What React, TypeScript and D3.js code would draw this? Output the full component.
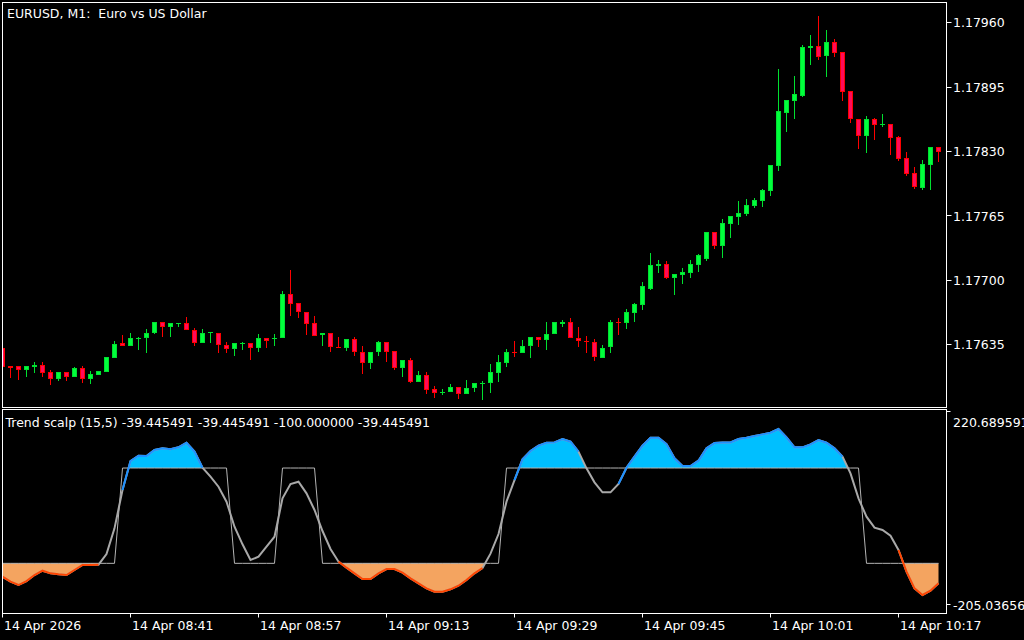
import React from "react";
import * as d3 from "d3";

// ---- Price data (EURUSD M1), bar 0 = 08:25 ----
const opens = [
  1.17631, 1.17613, 1.17613, 1.17609, 1.17612, 1.17614, 1.17607, 1.176, 1.17607, 1.17602,
  1.17611, 1.176, 1.17604, 1.17607, 1.17621, 1.17636, 1.17633, 1.1764, 1.17641, 1.17646,
  1.17658, 1.17652, 1.17656, 1.17657, 1.17649, 1.17636, 1.17646, 1.17646, 1.17634, 1.1763,
  1.17635, 1.17636, 1.17631, 1.17641, 1.1764, 1.17641, 1.17686, 1.17677, 1.17668, 1.17656,
  1.17644, 1.17646, 1.17632, 1.17631, 1.1764, 1.17627, 1.17616, 1.17627, 1.17637, 1.17628,
  1.17611, 1.17619, 1.17597, 1.17604, 1.1759, 1.17586, 1.17587, 1.17592, 1.17585, 1.17591,
  1.17595, 1.17596, 1.17606, 1.17616, 1.17627, 1.17626, 1.17633, 1.17642, 1.17639, 1.17645,
  1.17655, 1.17658, 1.17641, 1.17638, 1.17637, 1.17621, 1.17632, 1.17658, 1.17657, 1.17667,
  1.17675, 1.17691, 1.17714, 1.17716, 1.17702, 1.17705, 1.17707, 1.17715, 1.17721, 1.17748,
  1.17734, 1.17756, 1.17763, 1.17767, 1.17775, 1.1778, 1.1779, 1.17815, 1.17868, 1.17881,
  1.17886, 1.17934, 1.17936, 1.17926, 1.1794, 1.1793, 1.17891, 1.17862, 1.17845, 1.17862,
  1.17856, 1.17857, 1.17844, 1.17823, 1.17808, 1.17793, 1.17816, 1.17834,
];
const highs = [
  1.17632, 1.17613, 1.17613, 1.17613, 1.17617, 1.17617, 1.17609, 1.17607, 1.17607, 1.17612,
  1.17613, 1.17608, 1.17608, 1.17622, 1.17638, 1.17644, 1.17646, 1.17642, 1.1765, 1.17658,
  1.17658, 1.17657, 1.17657, 1.17663, 1.17651, 1.1765, 1.17647, 1.17646, 1.17637, 1.17636,
  1.17637, 1.17636, 1.17645, 1.17641, 1.17645, 1.17689, 1.1771, 1.17677, 1.17668, 1.17664,
  1.17646, 1.17646, 1.17642, 1.1764, 1.17642, 1.17633, 1.17627, 1.17638, 1.17637, 1.17628,
  1.17619, 1.17621, 1.17608, 1.17607, 1.17593, 1.1759, 1.17595, 1.17592, 1.17599, 1.17596,
  1.17598, 1.17615, 1.17624, 1.1763, 1.17638, 1.17639, 1.17642, 1.17642, 1.17658, 1.17658,
  1.1766, 1.17662, 1.17652, 1.17643, 1.1764, 1.17634, 1.1766, 1.17662, 1.17671, 1.17677,
  1.17698, 1.17727, 1.1772, 1.17719, 1.17706, 1.17712, 1.1772, 1.17726, 1.17748, 1.17748,
  1.17761, 1.17764, 1.1778, 1.17782, 1.17783, 1.17792, 1.17816, 1.17913, 1.17882, 1.17906,
  1.17937, 1.17947, 1.17966, 1.17952, 1.17943, 1.1793, 1.17891, 1.17862, 1.17865, 1.17863,
  1.17867, 1.17857, 1.17845, 1.17829, 1.17814, 1.17821, 1.17834, 1.17834,
];
const lows = [
  1.17612, 1.17601, 1.17599, 1.17602, 1.17606, 1.17602, 1.17594, 1.17598, 1.17598, 1.17602,
  1.17596, 1.17595, 1.17604, 1.17607, 1.17621, 1.17633, 1.17633, 1.17629, 1.17626, 1.17645,
  1.17642, 1.17642, 1.17652, 1.17649, 1.17633, 1.17636, 1.17636, 1.17626, 1.17626, 1.17623,
  1.17629, 1.17619, 1.17627, 1.17631, 1.17633, 1.17641, 1.17664, 1.17662, 1.17644, 1.17643,
  1.17633, 1.17627, 1.17631, 1.17628, 1.17623, 1.17605, 1.1761, 1.17623, 1.17617, 1.17609,
  1.17602, 1.17596, 1.17597, 1.17585, 1.17581, 1.17584, 1.17587, 1.1758, 1.17585, 1.17587,
  1.17579, 1.17586, 1.17597, 1.17612, 1.17622, 1.17626, 1.17621, 1.17632, 1.17629, 1.17645,
  1.17652, 1.17641, 1.17632, 1.17626, 1.17618, 1.17621, 1.17626, 1.17644, 1.1765, 1.17658,
  1.1767, 1.1769, 1.17707, 1.17701, 1.17685, 1.17696, 1.17702, 1.17708, 1.17719, 1.17731,
  1.17722, 1.17742, 1.17755, 1.17764, 1.17773, 1.17774, 1.17785, 1.1781, 1.17849, 1.17862,
  1.17885, 1.17917, 1.17922, 1.17905, 1.17925, 1.17881, 1.17858, 1.17832, 1.17828, 1.17841,
  1.17854, 1.17826, 1.1782, 1.17805, 1.17792, 1.17791, 1.17791, 1.17819,
];
const closes = [
  1.17612, 1.17611, 1.17609, 1.17613, 1.17614, 1.17606, 1.176, 1.17607, 1.17602, 1.17611,
  1.176, 1.17605, 1.17608, 1.17622, 1.17635, 1.17633, 1.17641, 1.17641, 1.17646, 1.17658,
  1.17652, 1.17657, 1.17657, 1.17649, 1.17636, 1.17646, 1.17647, 1.17634, 1.1763, 1.17636,
  1.17636, 1.17631, 1.17641, 1.17638, 1.17641, 1.17686, 1.17676, 1.17668, 1.17655, 1.17643,
  1.17646, 1.17632, 1.17631, 1.1764, 1.17627, 1.17616, 1.17627, 1.17637, 1.17627, 1.17611,
  1.17619, 1.17597, 1.17604, 1.17589, 1.17586, 1.17587, 1.17592, 1.17585, 1.17591, 1.17596,
  1.17596, 1.17607, 1.17617, 1.17627, 1.17626, 1.17633, 1.17642, 1.17639, 1.17645, 1.17658,
  1.17658, 1.17641, 1.17638, 1.17637, 1.17622, 1.17631, 1.17658, 1.17657, 1.17668, 1.17676,
  1.17694, 1.17715, 1.17716, 1.17702, 1.17706, 1.17708, 1.17716, 1.17725, 1.17748, 1.17734,
  1.17757, 1.17764, 1.17768, 1.17776, 1.17781, 1.17791, 1.17816, 1.1787, 1.17882, 1.17888,
  1.17935, 1.17936, 1.17925, 1.1794, 1.17929, 1.1789, 1.17862, 1.17845, 1.17862, 1.17856,
  1.17857, 1.17843, 1.17822, 1.17807, 1.17794, 1.17817, 1.17834, 1.17829,
];

// ---- Trend scalp indicator ----
const oscValues = [
  -128.0, -138.5, -145.5, -137.1, -124.5, -115.4, -121.0, -123.1, -124.5, -114.0,
  -103.5, -103.5, -102.8, -80.4, -26.6, 53.8, 114.7, 125.9, 125.2, 137.8,
  141.3, 139.2, 143.4, 153.1, 134.3, 100.7, 81.8, 60.8, 29.4, -23.1,
  -60.1, -93.0, -86.0, -65.0, -44.1, 36.4, 66.4, 71.3, 46.9, 11.9,
  -32.2, -69.9, -96.5, -109.1, -121.0, -132.9, -132.9, -121.0, -111.9, -111.9,
  -119.6, -131.5, -142.0, -152.4, -159.4, -159.4, -154.5, -146.9, -135.0, -121.0,
  -109.8, -79.7, -38.5, 29.4, 74.8, 118.2, 135.7, 146.9, 153.1, 153.8,
  160.8, 155.2, 134.3, 99.3, 69.9, 49.0, 49.0, 66.4, 100.7, 123.8,
  146.9, 163.6, 163.6, 150.3, 120.3, 104.2, 104.2, 115.4, 141.3, 152.4,
  153.8, 153.8, 160.8, 163.6, 167.1, 170.6, 174.1, 181.8, 164.3, 143.4,
  143.4, 149.7, 158.7, 153.1, 141.3, 123.8, 88.8, 36.4, -2.1, -25.2,
  -30.1, -42.0, -72.0, -117.5, -152.4, -166.4, -157.3, -142.0,
];
const trendValues = [
  -100, -100, -100, -100, -100, -100, -100, -100, -100, -100,
  -100, -100, -100, -100, -100, 100, 100, 100, 100, 100,
  100, 100, 100, 100, 100, 100, 100, 100, 100, -100,
  -100, -100, -100, -100, -100, 100, 100, 100, 100, 100,
  -100, -100, -100, -100, -100, -100, -100, -100, -100, -100,
  -100, -100, -100, -100, -100, -100, -100, -100, -100, -100,
  -100, -100, -100, 100, 100, 100, 100, 100, 100, 100,
  100, 100, 100, 100, 100, 100, 100, 100, 100, 100,
  100, 100, 100, 100, 100, 100, 100, 100, 100, 100,
  100, 100, 100, 100, 100, 100, 100, 100, 100, 100,
  100, 100, 100, 100, 100, 100, 100, 100, -100, -100,
  -100, -100, -100, -100, -100, -100, -100, -100,
];
const upperLevel = 100;
const lowerLevel = -100;

// ---- Axes ----
const priceTicks = [1.1796, 1.17895, 1.1783, 1.17765, 1.177, 1.17635];
const indicatorTickLabels = ["220.689591", "-205.03656"];
const timeTickBars = [0, 16, 32, 48, 64, 80, 96, 112];
const timeTickLabels = [
  "14 Apr 2026", "14 Apr 08:41", "14 Apr 08:57", "14 Apr 09:13",
  "14 Apr 09:29", "14 Apr 09:45", "14 Apr 10:01", "14 Apr 10:17",
];
const titleText = "EURUSD, M1:  Euro vs US Dollar";
const indicatorText = "Trend scalp (15,5) -39.445491 -39.445491 -100.000000 -39.445491";

const FONT = "'DejaVu Sans', sans-serif";
const FS = 12.5;
const BULL_FILL = "#00ff3c";
const BULL_EDGE = "#00e030";
const BEAR_FILL = "#ff0a5a";
const BEAR_EDGE = "#ff0000";

export default function App() {
  const N = opens.length;
  const x = d3.scaleLinear().domain([0, N - 1]).range([2.5, 2.5 + 8 * (N - 1)]);
  const y = d3.scaleLinear().domain([1.17635, 1.1796]).range([344.3, 22.3]);
  const yi = d3.scaleLinear().domain([-205.03656, 220.689591]).range([613.4, 410.5]);

  const L = 2.5, R = 946.5, T = 2.5, B = 407.5;
  const IT = 409.5, IB = 613.5;

  type P = { x: number; v: number };
  const dense: P[] = [];
  oscValues.forEach((v, i) => {
    if (i > 0) {
      const v0 = oscValues[i - 1];
      const cross: number[] = [];
      [upperLevel, lowerLevel].forEach((lv) => {
        if ((v0 - lv) * (v - lv) < 0) cross.push((lv - v0) / (v - v0));
      });
      cross.sort((a, b) => a - b).forEach((t) => {
        dense.push({ x: x(i - 1) + t * (x(i) - x(i - 1)), v: v0 + t * (v - v0) });
      });
    }
    dense.push({ x: x(i), v });
  });

  const upperArea = d3.area<P>().x((d) => d.x).y0(yi(upperLevel)).y1((d) => yi(Math.max(d.v, upperLevel)))(dense) || "";
  const lowerArea = d3.area<P>().x((d) => d.x).y0(yi(lowerLevel)).y1((d) => yi(Math.min(d.v, lowerLevel)))(dense) || "";
  const oscLine = d3.line<number>().x((_, i) => x(i)).y((v) => yi(v))(oscValues) || "";
  const trendLine = d3.line<number>().x((_, i) => x(i)).y((v) => yi(v))(trendValues) || "";

  const segs: { color: string; d: string }[] = [];
  let run: [number, number][] = [];
  let runColor = "";
  const colorOf = (v: number) => (v > upperLevel ? "#1e90ff" : v < lowerLevel ? "#ff4500" : "");
  for (let i = 1; i < N; i++) {
    const c = colorOf(oscValues[i]);
    if (c && c === runColor) {
      run.push([x(i), yi(oscValues[i])]);
    } else {
      if (runColor && run.length) segs.push({ color: runColor, d: d3.line()(run) || "" });
      runColor = c;
      run = c ? [[x(i - 1), yi(oscValues[i - 1])], [x(i), yi(oscValues[i])]] : [];
    }
  }
  if (runColor && run.length) segs.push({ color: runColor, d: d3.line()(run) || "" });

  const candles = opens.map((o, i) => {
    const c = closes[i];
    const bull = c >= o;
    const cx = x(i);
    const top = Math.round(y(Math.max(o, c)));
    const bot = Math.round(y(Math.min(o, c)));
    const h = Math.max(1, bot - top);
    const hy = Math.round(y(highs[i]));
    const ly = Math.round(y(lows[i]));
    const edge = bull ? BULL_EDGE : BEAR_EDGE;
    const fill = bull ? BULL_FILL : BEAR_FILL;
    return (
      <g key={i}>
        <rect x={cx - 0.5} y={hy} width={1} height={Math.max(1, ly - hy)} fill={edge} />
        <rect x={cx - 2.5} y={top} width={5} height={h} fill={edge} />
        {h > 2 && <rect x={cx - 1.5} y={top + 1} width={3} height={h - 2} fill={fill} />}
      </g>
    );
  });

  return (
    <div style={{ position: "fixed", left: 0, top: 0 }}>
      <svg width={1024} height={640} style={{ display: "block", background: "#000" }} fontFamily={FONT}>
        <rect x={0} y={0} width={1024} height={640} fill="#000" />
        <defs>
          <clipPath id="mainClip">
            <rect x={L + 0.5} y={T + 0.5} width={R - L - 1} height={B - T - 1} />
          </clipPath>
          <clipPath id="indClip">
            <rect x={L + 0.5} y={IT + 0.5} width={R - L - 1} height={IB - IT - 1} />
          </clipPath>
        </defs>

        <g clipPath="url(#mainClip)">{candles}</g>

        <g clipPath="url(#indClip)">
          <path d={upperArea} fill="#00bfff" />
          <path d={lowerArea} fill="#f4a460" />
          <path d={trendLine} fill="none" stroke="#b4b4b4" strokeWidth={1} />
          <path d={oscLine} fill="none" stroke="#a9a9a9" strokeWidth={2} />
          {segs.map((s, i) => (
            <path key={i} d={s.d} fill="none" stroke={s.color} strokeWidth={2} />
          ))}
        </g>

        <rect x={L} y={T} width={R - L} height={B - T} fill="none" stroke="#fff" strokeWidth={1} />
        <rect x={L} y={IT} width={R - L} height={IB - IT} fill="none" stroke="#fff" strokeWidth={1} />

        <text x={7} y={18} fontSize={FS} fill="#fff" style={{ whiteSpace: "pre" }}>{titleText}</text>
        <text x={5.5} y={427} fontSize={FS} fill="#fff" style={{ whiteSpace: "pre" }}>{indicatorText}</text>

        {priceTicks.map((p) => (
          <g key={p}>
            <line x1={R} x2={R + 5} y1={Math.round(y(p)) + 0.5} y2={Math.round(y(p)) + 0.5} stroke="#fff" />
            <text x={953} y={y(p) + 5} fontSize={FS} fill="#fff">{p.toFixed(5)}</text>
          </g>
        ))}

        <line x1={R} x2={R + 4} y1={411.5} y2={411.5} stroke="#fff" />
        <text x={953} y={427} fontSize={FS} fill="#fff">{indicatorTickLabels[0]}</text>
        <line x1={R} x2={R + 4} y1={604.5} y2={604.5} stroke="#fff" />
        <text x={953} y={610} fontSize={FS} fill="#fff">{indicatorTickLabels[1]}</text>

        {timeTickBars.map((b, k) => (
          <g key={b}>
            <line x1={Math.floor(x(b)) + 0.5} x2={Math.floor(x(b)) + 0.5} y1={IB} y2={IB + 4} stroke="#fff" />
            <text x={Math.floor(x(b)) + 2} y={630} fontSize={FS} fill="#fff">{timeTickLabels[k]}</text>
          </g>
        ))}
      </svg>
    </div>
  );
}
